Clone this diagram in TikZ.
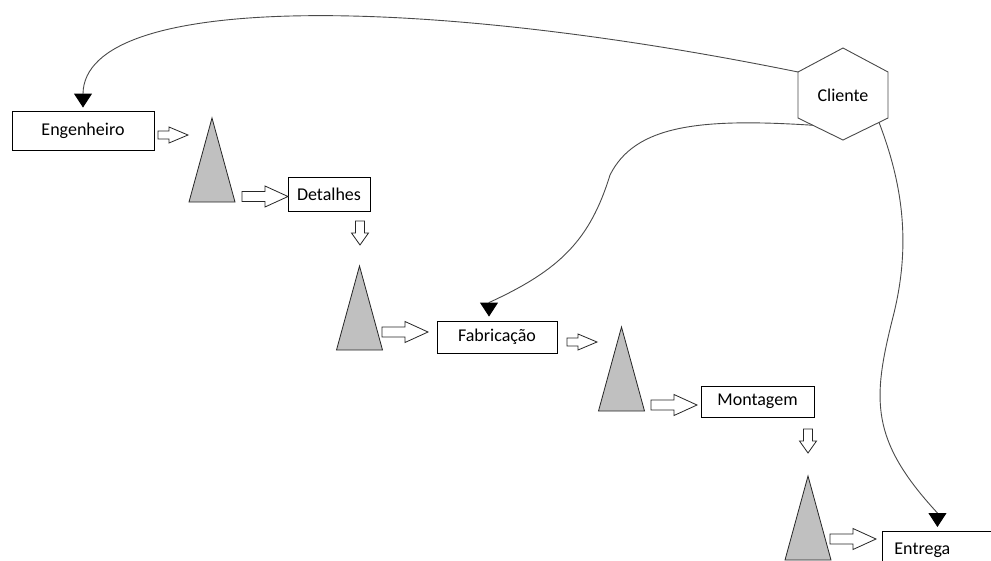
\documentclass[tikz,border=0pt]{standalone}
\usepackage{fontspec}
\setmainfont{Carlito}
\usetikzlibrary{arrows.meta,calc}
\definecolor{conegray}{HTML}{C0C0C0}
\definecolor{linegray}{HTML}{4A4A4A}
\tikzset{
  box/.style={draw=black, line width=0.9pt, fill=white, inner sep=0pt, font=\fontsize{18}{22}\selectfont},
  blk/.style={draw=black!85, line width=0.8pt, fill=white, line join=miter},
  conefill/.style={draw=black!85, line width=0.8pt, fill=conegray},
  curve/.style={draw=linegray, line width=0.9pt, -{Triangle[width=18pt,length=14pt,black]}},
  hexline/.style={draw=linegray, line width=0.9pt},
  bigarr/.pic={\draw[blk] (0,-5) -- (23,-5) -- (23,-10.5) -- (46,0) -- (23,10.5) -- (23,5) -- (0,5) -- cycle;},
  smallarr/.pic={\draw[blk] (0,-4) -- (11,-4) -- (11,-8) -- (30,0) -- (11,8) -- (11,4) -- (0,4) -- cycle;},
  downarr/.pic={\draw[blk] (-4.5,0) -- (-4.5,12) -- (-8.5,12) -- (0,24) -- (8.5,12) -- (4.5,12) -- (4.5,0) -- cycle;},
  cone/.pic={\draw[conefill] (0,0) -- (-23,84) -- (23,84) -- cycle;}
}
\begin{document}
\begin{tikzpicture}[x=1pt,y=-1pt]
\useasboundingbox[fill=white] (0,0) rectangle (991,560);

% process boxes
\node[box, minimum width=142pt, minimum height=39pt] (eng) at (83,130.5) {Engenheiro};
\node[box, minimum width=82pt, minimum height=34pt] (det) at (329,194) {Detalhes};
\node[box, minimum width=120pt, minimum height=32pt] (fab) at (497,337) {Fabricação};
\node[box, minimum width=113pt, minimum height=31pt] (mon) at (757.5,401.5) {Montagem};
\node[box, anchor=north west, minimum width=130pt, minimum height=38pt, text width=106pt, inner xsep=12pt, align=left] (ent) at (882,531) {Entrega};

% cones (inventory triangles)
\pic at (212,118) {cone};
\pic at (359.5,266) {cone};
\pic at (621.5,327) {cone};
\pic at (808,476) {cone};

% block arrows
\pic at (158,135) {smallarr};
\pic at (242,196.5) {bigarr};
\pic at (360,221) {downarr};
\pic at (382,332) {bigarr};
\pic at (567,342) {smallarr};
\pic at (651,405) {bigarr};
\pic at (808,429) {downarr};
\pic at (830,539) {bigarr};

% Cliente hexagon
\coordinate (h1) at (843,48);
\coordinate (h2) at (888,72);
\coordinate (h3) at (888,118);
\coordinate (h4) at (843,140);
\coordinate (h5) at (798,118);
\coordinate (h6) at (798,72);
\draw[hexline, fill=white] (h1) -- (h2) -- (h3) -- (h4) -- (h5) -- (h6) -- cycle;
\node[font=\fontsize{18}{22}\selectfont] (cli) at (843,95) {Cliente};

% information flows
\draw[curve] (h6) .. controls (420,-5) and (85,-8) .. ([yshift=17pt]eng.north) -- ([yshift=3pt]eng.north);
\draw[curve] ($(h5)!0.33!(h4)$) .. controls (700,118) and (635,125) .. (610,175)
   .. controls (590,240) and (560,270) .. ([xshift=-8pt,yshift=18pt]fab.north) -- ([xshift=-8pt,yshift=4pt]fab.north);
\draw[curve] ($(h3)!0.2!(h4)$) .. controls (905,190) and (910,250) .. (893,317)
   .. controls (872,400) and (870,440) .. ([xshift=-10pt,yshift=18pt]ent.north) -- ([xshift=-10pt,yshift=4pt]ent.north);
\end{tikzpicture}
\end{document}
